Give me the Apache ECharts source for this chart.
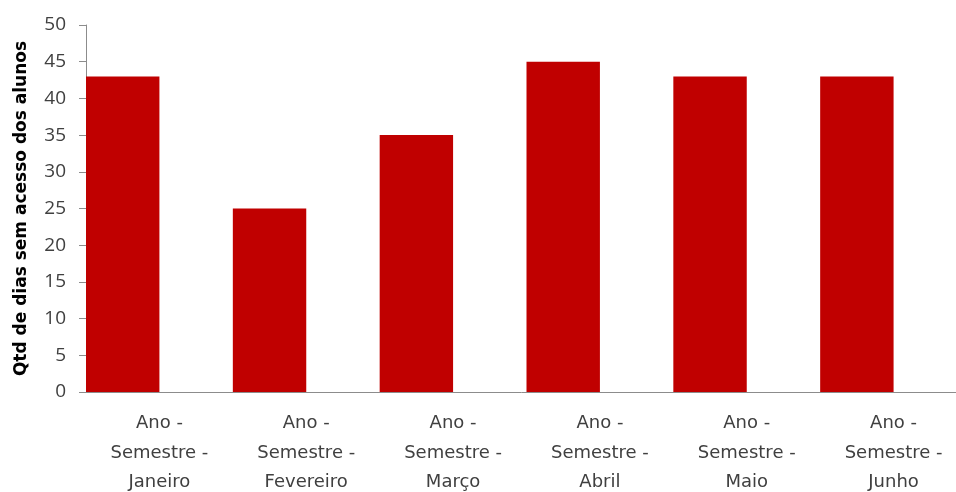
<!DOCTYPE html>
<html>
<head>
<meta charset="utf-8">
<script src="https://cdn.jsdelivr.net/npm/echarts@6/dist/echarts.min.js"></script>
<style>html,body{margin:0;padding:0;background:#fff;overflow:hidden;}#c{width:956px;height:492px;}</style>
</head>
<body>
<div id="c"></div>
<script>
const categories = ["Ano -\nSemestre -\nJaneiro", "Ano -\nSemestre -\nFevereiro", "Ano -\nSemestre -\nMarço", "Ano -\nSemestre -\nAbril", "Ano -\nSemestre -\nMaio", "Ano -\nSemestre -\nJunho"];
const diasSemAcesso = [43, 25, 35, 45, 43, 43];
const serieVazia = [0, 0, 0, 0, 0, 0];
const yTicks = {min: 0, max: 50, interval: 5};
const yName = "Qtd de dias sem acesso dos alunos";

const chart = echarts.init(document.getElementById('c'), null, {renderer: 'canvas'});
chart.setOption({
  animation: false,
  backgroundColor: '#ffffff',
  grid: {left: 86, top: 25, width: 881, height: 367, containLabel: false, outerBoundsMode: 'none'},
  xAxis: {
    type: 'category',
    data: categories,
    axisLine: {show: true, lineStyle: {color: '#8c8c8c', width: 1}},
    axisTick: {show: false},
    axisLabel: {color: '#404040', fontFamily: 'DejaVu Sans', fontSize: 18, lineHeight: 29.5, margin: 17, interval: 0}
  },
  yAxis: {
    type: 'value',
    min: yTicks.min, max: yTicks.max, interval: yTicks.interval,
    name: yName,
    nameLocation: 'middle',
    nameGap: 56,
    nameTextStyle: {color: '#000', fontFamily: 'DejaVu Sans', fontWeight: 'bold', fontSize: 17},
    axisLine: {show: true, lineStyle: {color: '#8c8c8c', width: 1}},
    axisTick: {show: true, length: 7, lineStyle: {color: '#8c8c8c'}},
    axisLabel: {color: '#404040', fontFamily: 'Open Sans', fontSize: 19, margin: 20},
    splitLine: {show: false}
  },
  series: [
    {type: 'bar', data: diasSemAcesso, itemStyle: {color: '#C00000'}, barGap: '0%', barCategoryGap: '0%'},
    {type: 'bar', data: serieVazia, itemStyle: {color: 'rgba(0,0,0,0)'}, barGap: '0%', barCategoryGap: '0%'}
  ]
});
</script>
</body>
</html>
